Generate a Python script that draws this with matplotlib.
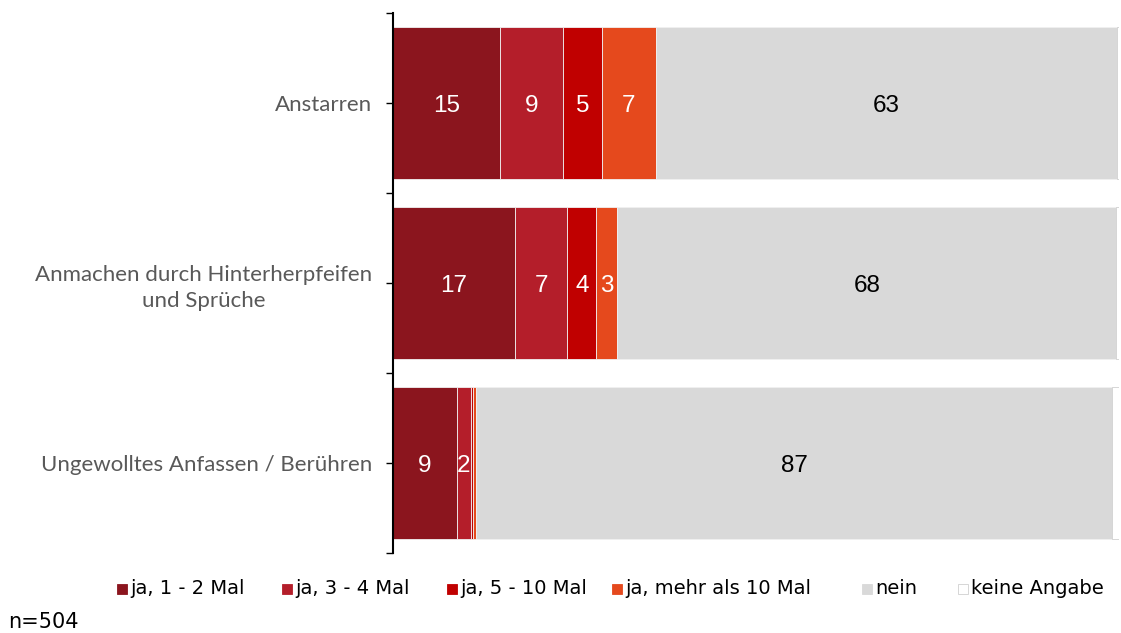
import matplotlib
matplotlib.use("Agg")
import matplotlib.pyplot as plt
from matplotlib.patches import Rectangle
import numpy as np

categories = ["Anstarren", "Anmachen durch Hinterherpfeifen\nund Sprüche", "Ungewolltes Anfassen / Berühren"]
series = ["ja, 1 - 2 Mal", "ja, 3 - 4 Mal", "ja, 5 - 10 Mal", "ja, mehr als 10 Mal", "nein", "keine Angabe"]
ja_1_2 = [14.7, 16.8, 8.8]
ja_3_4 = [8.7, 7.2, 1.9]
ja_5_10 = [5.4, 4.0, 0.36]
ja_mehr_10 = [7.4, 2.9, 0.33]
nein = [63.5, 68.7, 87.7]
keine_angabe = [0.3, 0.4, 0.9]
labels_shown = [
    ["15", "9", "5", "7", "63", ""],
    ["17", "7", "4", "3", "68", ""],
    ["9", "2", "", "", "87", ""],
]
note = "n=504"

colors = ["#8B151E", "#B41E2A", "#C00000", "#E5491D", "#D9D9D9", "#FFFFFF"]
edges = ["#F0F0F0", "#F0F0F0", "#F0F0F0", "#F0F0F0", "#F0F0F0", "#D0D0D0"]
txtcol = ["white", "white", "white", "white", "black", "black"]

data = [ja_1_2, ja_3_4, ja_5_10, ja_mehr_10, nein, keine_angabe]

W, H = 1121, 633
fig = plt.figure(figsize=(W / 100, H / 100), dpi=100)
ax = fig.add_axes([393/W, 1-553/H, (1119-393)/W, 540/H])

y = np.arange(len(categories))
left = np.zeros(len(categories))
for i, vals in enumerate(data):
    vals = np.array(vals)
    bars = ax.barh(y, vals, left=left, height=0.84, color=colors[i],
                   edgecolor=edges[i], linewidth=0.6, label=series[i])
    for j, b in enumerate(bars):
        t = labels_shown[j][i]
        if t:
            ax.text(left[j] + vals[j] / 2, y[j], t, ha="center", va="center_baseline",
                    color=txtcol[i], fontsize=17.5, family=["Liberation Sans", "DejaVu Sans"])
    left = left + vals

ax.set_xlim(0, 100)
ax.set_ylim(2.5, -0.5)
ax.set_yticks(y)
ax.set_yticks([-0.5, 0.5, 1.5, 2.5], minor=True)
ax.set_yticklabels(categories, fontsize=16, color="#595959", family=["Lato", "DejaVu Sans"],
                   multialignment="center", linespacing=1.35)
ax.tick_params(axis="y", which="both", length=5, width=1, color="black", pad=10)
ax.tick_params(axis="x", bottom=False, labelbottom=False)
for s in ["top", "right", "bottom"]:
    ax.spines[s].set_visible(False)
ax.spines["left"].set_linewidth(1.5)

# legend entries placed manually
leg_x = [117, 282, 447, 612, 862, 958]
leg_y = 589
for i, name in enumerate(series):
    fig.patches.append(Rectangle((leg_x[i] / W, 1 - (leg_y + 5) / H), 10 / W, 10 / H,
                                 transform=fig.transFigure, facecolor=colors[i],
                                 edgecolor=("#D0D0D0" if i == 5 else colors[i]), linewidth=0.6))
    fig.text((leg_x[i] + 13) / W, 1 - leg_y / H, name, ha="left", va="center", fontsize=14,
             color="black", family=["DejaVu Sans"])
fig.text(8/W, 1-622/H, note, ha="left", va="center", fontsize=15, family=["DejaVu Sans"])

fig.savefig("out.png", dpi=100)
